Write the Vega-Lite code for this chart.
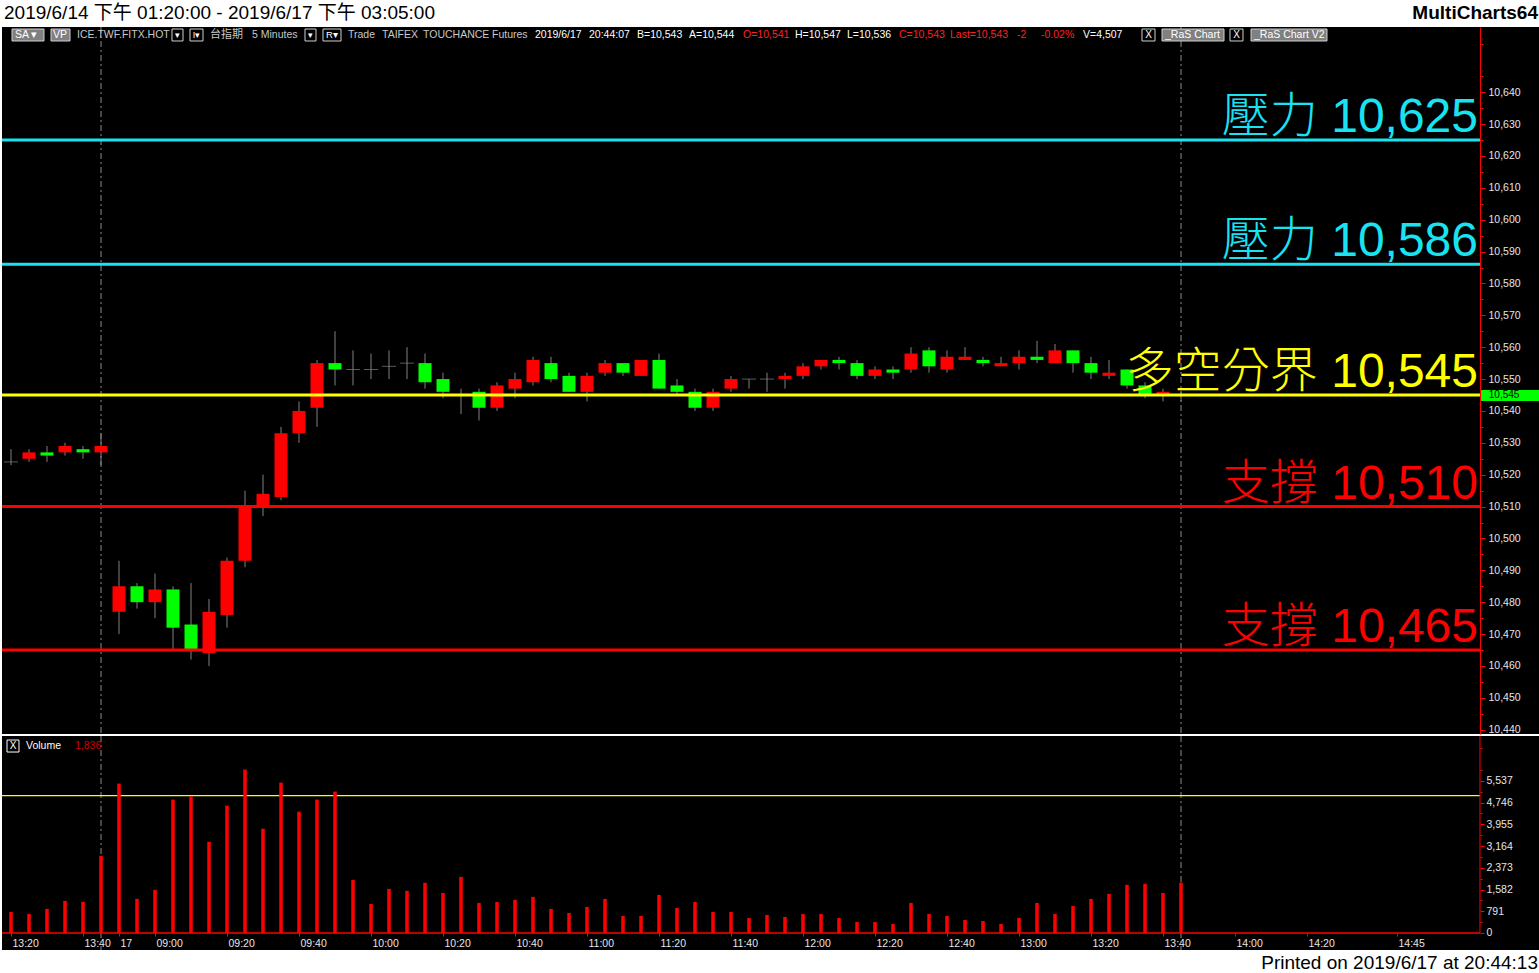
{
  "$schema": "https://vega.github.io/schema/vega-lite/v6.json",
  "background": "white",
  "padding": 0,
  "autosize": {"type": "pad"},
  "spacing": 2,
  "bounds": "flush",
  "config": {"view": {"stroke": null}, "font": "Liberation Sans", "axis": {"grid": false}},
  "datasets": {
    "bars": [
      {"t": "2019-06-14 13:20", "i": 0, "o": 10524, "h": 10528, "l": 10523, "c": 10524, "v": 767},
      {"t": "2019-06-14 13:25", "i": 1, "o": 10525, "h": 10528, "l": 10524, "c": 10527, "v": 694},
      {"t": "2019-06-14 13:30", "i": 2, "o": 10527, "h": 10529, "l": 10524, "c": 10526, "v": 876},
      {"t": "2019-06-14 13:35", "i": 3, "o": 10527, "h": 10530, "l": 10526, "c": 10529, "v": 1168},
      {"t": "2019-06-14 13:40", "i": 4, "o": 10528, "h": 10529, "l": 10525, "c": 10527, "v": 1131},
      {"t": "2019-06-14 13:45", "i": 5, "o": 10527, "h": 10533, "l": 10523, "c": 10529, "v": 2810},
      {"t": "2019-06-17 08:50", "i": 6, "o": 10477, "h": 10493, "l": 10470, "c": 10485, "v": 5439},
      {"t": "2019-06-17 08:55", "i": 7, "o": 10485, "h": 10486, "l": 10478, "c": 10480, "v": 1241},
      {"t": "2019-06-17 09:00", "i": 8, "o": 10480, "h": 10489, "l": 10475, "c": 10484, "v": 1570},
      {"t": "2019-06-17 09:05", "i": 9, "o": 10484, "h": 10485, "l": 10465, "c": 10472, "v": 4855},
      {"t": "2019-06-17 09:10", "i": 10, "o": 10473, "h": 10486, "l": 10462, "c": 10465, "v": 4976},
      {"t": "2019-06-17 09:15", "i": 11, "o": 10464, "h": 10481, "l": 10460, "c": 10477, "v": 3321},
      {"t": "2019-06-17 09:20", "i": 12, "o": 10476, "h": 10494, "l": 10472, "c": 10493, "v": 4636},
      {"t": "2019-06-17 09:25", "i": 13, "o": 10493, "h": 10515, "l": 10491, "c": 10510, "v": 5950},
      {"t": "2019-06-17 09:30", "i": 14, "o": 10510, "h": 10520, "l": 10507, "c": 10514, "v": 3796},
      {"t": "2019-06-17 09:35", "i": 15, "o": 10513, "h": 10535, "l": 10512, "c": 10533, "v": 5475},
      {"t": "2019-06-17 09:40", "i": 16, "o": 10533, "h": 10543, "l": 10530, "c": 10540, "v": 4417},
      {"t": "2019-06-17 09:45", "i": 17, "o": 10541, "h": 10556, "l": 10535, "c": 10555, "v": 4855},
      {"t": "2019-06-17 09:50", "i": 18, "o": 10555, "h": 10565, "l": 10548, "c": 10553, "v": 5147},
      {"t": "2019-06-17 09:55", "i": 19, "o": 10553, "h": 10559, "l": 10548, "c": 10553, "v": 1935},
      {"t": "2019-06-17 10:00", "i": 20, "o": 10553, "h": 10558, "l": 10550, "c": 10553, "v": 1059},
      {"t": "2019-06-17 10:05", "i": 21, "o": 10554, "h": 10559, "l": 10550, "c": 10554, "v": 1606},
      {"t": "2019-06-17 10:10", "i": 22, "o": 10555, "h": 10560, "l": 10550, "c": 10555, "v": 1533},
      {"t": "2019-06-17 10:15", "i": 23, "o": 10555, "h": 10558, "l": 10547, "c": 10549, "v": 1825},
      {"t": "2019-06-17 10:20", "i": 24, "o": 10550, "h": 10552, "l": 10544, "c": 10546, "v": 1460},
      {"t": "2019-06-17 10:25", "i": 25, "o": 10545, "h": 10547, "l": 10539, "c": 10545, "v": 2044},
      {"t": "2019-06-17 10:30", "i": 26, "o": 10546, "h": 10547, "l": 10537, "c": 10541, "v": 1095},
      {"t": "2019-06-17 10:35", "i": 27, "o": 10541, "h": 10549, "l": 10540, "c": 10548, "v": 1131},
      {"t": "2019-06-17 10:40", "i": 28, "o": 10547, "h": 10552, "l": 10544, "c": 10550, "v": 1205},
      {"t": "2019-06-17 10:45", "i": 29, "o": 10549, "h": 10557, "l": 10548, "c": 10556, "v": 1314},
      {"t": "2019-06-17 10:50", "i": 30, "o": 10555, "h": 10557, "l": 10549, "c": 10550, "v": 876},
      {"t": "2019-06-17 10:55", "i": 31, "o": 10551, "h": 10552, "l": 10546, "c": 10546, "v": 730},
      {"t": "2019-06-17 11:00", "i": 32, "o": 10546, "h": 10552, "l": 10543, "c": 10551, "v": 949},
      {"t": "2019-06-17 11:05", "i": 33, "o": 10552, "h": 10556, "l": 10551, "c": 10555, "v": 1241},
      {"t": "2019-06-17 11:10", "i": 34, "o": 10555, "h": 10555, "l": 10551, "c": 10552, "v": 620},
      {"t": "2019-06-17 11:15", "i": 35, "o": 10551, "h": 10556, "l": 10551, "c": 10556, "v": 620},
      {"t": "2019-06-17 11:20", "i": 36, "o": 10556, "h": 10558, "l": 10547, "c": 10547, "v": 1387},
      {"t": "2019-06-17 11:25", "i": 37, "o": 10548, "h": 10550, "l": 10545, "c": 10546, "v": 912},
      {"t": "2019-06-17 11:30", "i": 38, "o": 10546, "h": 10547, "l": 10540, "c": 10541, "v": 1131},
      {"t": "2019-06-17 11:35", "i": 39, "o": 10541, "h": 10547, "l": 10540, "c": 10546, "v": 767},
      {"t": "2019-06-17 11:40", "i": 40, "o": 10547, "h": 10551, "l": 10546, "c": 10550, "v": 767},
      {"t": "2019-06-17 11:45", "i": 41, "o": 10550, "h": 10550, "l": 10547, "c": 10550, "v": 548},
      {"t": "2019-06-17 11:50", "i": 42, "o": 10550, "h": 10552, "l": 10546, "c": 10550, "v": 657},
      {"t": "2019-06-17 11:55", "i": 43, "o": 10550, "h": 10552, "l": 10547, "c": 10551, "v": 584},
      {"t": "2019-06-17 12:00", "i": 44, "o": 10551, "h": 10555, "l": 10550, "c": 10554, "v": 694},
      {"t": "2019-06-17 12:05", "i": 45, "o": 10554, "h": 10556, "l": 10553, "c": 10556, "v": 694},
      {"t": "2019-06-17 12:10", "i": 46, "o": 10556, "h": 10557, "l": 10553, "c": 10555, "v": 548},
      {"t": "2019-06-17 12:15", "i": 47, "o": 10555, "h": 10556, "l": 10550, "c": 10551, "v": 402},
      {"t": "2019-06-17 12:20", "i": 48, "o": 10551, "h": 10554, "l": 10550, "c": 10553, "v": 402},
      {"t": "2019-06-17 12:25", "i": 49, "o": 10553, "h": 10554, "l": 10550, "c": 10552, "v": 329},
      {"t": "2019-06-17 12:30", "i": 50, "o": 10553, "h": 10560, "l": 10552, "c": 10558, "v": 1095},
      {"t": "2019-06-17 12:35", "i": 51, "o": 10559, "h": 10560, "l": 10552, "c": 10554, "v": 694},
      {"t": "2019-06-17 12:40", "i": 52, "o": 10553, "h": 10559, "l": 10552, "c": 10557, "v": 620},
      {"t": "2019-06-17 12:45", "i": 53, "o": 10556, "h": 10560, "l": 10556, "c": 10557, "v": 474},
      {"t": "2019-06-17 12:50", "i": 54, "o": 10556, "h": 10557, "l": 10554, "c": 10555, "v": 438},
      {"t": "2019-06-17 12:55", "i": 55, "o": 10554, "h": 10557, "l": 10554, "c": 10555, "v": 329},
      {"t": "2019-06-17 13:00", "i": 56, "o": 10555, "h": 10559, "l": 10553, "c": 10557, "v": 548},
      {"t": "2019-06-17 13:05", "i": 57, "o": 10557, "h": 10562, "l": 10555, "c": 10556, "v": 1095},
      {"t": "2019-06-17 13:10", "i": 58, "o": 10555, "h": 10561, "l": 10555, "c": 10559, "v": 694},
      {"t": "2019-06-17 13:15", "i": 59, "o": 10559, "h": 10559, "l": 10552, "c": 10555, "v": 986},
      {"t": "2019-06-17 13:20", "i": 60, "o": 10555, "h": 10557, "l": 10550, "c": 10552, "v": 1241},
      {"t": "2019-06-17 13:25", "i": 61, "o": 10551, "h": 10556, "l": 10550, "c": 10552, "v": 1424},
      {"t": "2019-06-17 13:30", "i": 62, "o": 10553, "h": 10553, "l": 10547, "c": 10548, "v": 1752},
      {"t": "2019-06-17 13:35", "i": 63, "o": 10548, "h": 10549, "l": 10544, "c": 10545, "v": 1789},
      {"t": "2019-06-17 13:40", "i": 64, "o": 10545, "h": 10547, "l": 10543, "c": 10546, "v": 1460},
      {"t": "2019-06-17 13:45", "i": 65, "o": 10545, "h": 10546, "l": 10543, "c": 10545, "v": 1836}
    ],
    "levels": [
      {"price": 10625, "kind": "壓力", "label": "壓力 10,625"},
      {"price": 10586, "kind": "壓力", "label": "壓力 10,586"},
      {"price": 10545, "kind": "多空分界", "label": "多空分界 10,545"},
      {"price": 10510, "kind": "支撐", "label": "支撐 10,510"},
      {"price": 10465, "kind": "支撐", "label": "支撐 10,465"}
    ],
    "sessions": [{"i": 5, "session": "2019/6/14 close"}, {"i": 65, "session": "2019/6/17 close"}],
    "header": [
      {"side": "start", "text": "2019/6/14 下午 01:20:00 - 2019/6/17 下午 03:05:00"},
      {"side": "end", "text": "MultiCharts64"}
    ],
    "volref": [{"v": 5000}]
  },
  "resolve": {"scale": {"x": "independent", "y": "independent", "color": "independent"}},
  "vconcat": [
    {
      "width": 1539,
      "height": 25,
      "data": {"name": "header"},
      "encoding": {"x": {"field": "side", "type": "nominal", "scale": {"type": "point", "domain": ["start", "end"], "padding": 0}, "axis": null}},
      "layer": [
        {"transform": [{"filter": "datum.side == 'start'"}], "mark": {"type": "text", "align": "left", "dx": 2, "fontSize": 19, "color": "#000000", "font": "Liberation Sans, Noto Sans CJK TC"}, "encoding": {"text": {"field": "text"}}},
        {"transform": [{"filter": "datum.side == 'end'"}], "mark": {"type": "text", "align": "right", "dx": -3, "fontSize": 19, "fontWeight": "bold", "color": "#000000", "font": "Liberation Sans"}, "encoding": {"text": {"field": "text"}}}
      ]
    },
    {
      "width": 1539,
      "height": 707,
      "view": {"fill": "#000000"},
      "data": {"values": [{}]},
      "resolve": {"axis": {"x": "independent", "y": "independent"}},
      "layer": [
        {"data": {"name": "sessions"}, "mark": {"type": "rule", "color": "#8c8c8c", "strokeWidth": 1, "strokeDash": [6, 3, 2, 3]}, "encoding": {"x": {"field": "i", "type": "quantitative", "scale": {"domain": [-0.5, 85], "nice": false, "zero": false, "padding": 0}, "axis": null}}},
        {"data": {"name": "bars"}, "mark": {"type": "rule", "color": "#808080", "strokeWidth": 1}, "encoding": {
          "x": {"field": "i", "type": "quantitative", "axis": null},
          "y": {"field": "l", "type": "quantitative", "scale": {"domain": [10438.65, 10660.45], "nice": false, "zero": false, "padding": 0},
            "axis": {"orient": "right", "offset": -61, "title": null, "values": [10440, 10450, 10460, 10470, 10480, 10490, 10500, 10510, 10520, 10530, 10540, 10550, 10560, 10570, 10580, 10590, 10600, 10610, 10620, 10630, 10640], "labelExpr": "format(datum.value, ',')", "domainColor": "#FF0000", "domainWidth": 1, "tickColor": "#FF0000", "tickSize": 5, "labelColor": "#E6E6E6", "labelFontSize": 10.5, "labelFont": "Liberation Sans", "labelPadding": 3, "labelOverlap": false, "labelBound": false, "labelFlush": false, "grid": false}},
          "y2": {"field": "h"}}},
        {"data": {"name": "bars"}, "transform": [{"filter": "datum.o != datum.c"}], "mark": {"type": "bar", "size": 13, "orient": "vertical"}, "encoding": {
          "x": {"field": "i", "type": "quantitative", "axis": null},
          "y": {"field": "o", "type": "quantitative", "axis": null},
          "y2": {"field": "c"},
          "color": {"condition": {"test": "datum.c > datum.o", "value": "#FF0000"}, "value": "#00FF00"}}},
        {"data": {"name": "bars"}, "transform": [{"filter": "datum.o == datum.c"}], "mark": {"type": "tick", "orient": "horizontal", "size": 14, "thickness": 1, "color": "#808080"}, "encoding": {
          "x": {"field": "i", "type": "quantitative", "axis": null},
          "y": {"field": "o", "type": "quantitative",
            "axis": {"orient": "right", "offset": -61, "title": null, "values": [10445, 10455, 10465, 10475, 10485, 10495, 10505, 10515, 10525, 10535, 10545, 10555, 10565, 10575, 10585, 10595, 10605, 10615, 10625, 10635, 10645, 10655], "labels": false, "domain": false, "tickColor": "#FF0000", "tickSize": 3, "grid": false}}}},
        {"data": {"name": "levels"}, "mark": {"type": "rule", "strokeWidth": 3}, "encoding": {
          "y": {"field": "price", "type": "quantitative", "axis": null},
          "x": {"datum": -0.5, "axis": null},
          "x2": {"datum": 81.61},
          "color": {"field": "kind", "type": "nominal", "scale": {"domain": ["壓力", "多空分界", "支撐"], "range": ["#19E3F2", "#FFFF00", "#FF0000"]}, "legend": null}}},
        {"data": {"name": "levels"}, "mark": {"type": "text", "align": "right", "baseline": "alphabetic", "dy": -8, "fontSize": 48, "fontWeight": 300, "font": "Liberation Sans, Noto Sans CJK TC"}, "encoding": {
          "y": {"field": "price", "type": "quantitative", "axis": null},
          "x": {"datum": 81.5, "axis": null},
          "text": {"field": "label"},
          "color": {"field": "kind", "type": "nominal", "legend": null}}},
        {"mark": {"type": "rect", "fill": "#00FF00"}, "encoding": {"x": {"datum": 81.67, "axis": null}, "x2": {"datum": 84.89}, "y": {"datum": 10546.57, "axis": null}, "y2": {"datum": 10543.12}}},
        {"mark": {"type": "text", "text": "10,545", "align": "left", "baseline": "middle", "fontSize": 10, "color": "#000000"}, "encoding": {"x": {"datum": 82.1, "axis": null}, "y": {"datum": 10544.85, "axis": null}}},

        {"mark": {"type": "rect", "fill": "#808080", "stroke": "#D0D0D0", "strokeWidth": 1}, "encoding": {"x": {"datum": 0.056, "axis": null}, "x2": {"datum": 1.833}, "y": {"datum": 10659.82, "axis": null}, "y2": {"datum": 10656.06}}},
        {"mark": {"type": "rect", "fill": "#808080", "stroke": "#D0D0D0", "strokeWidth": 1}, "encoding": {"x": {"datum": 2.222, "axis": null}, "x2": {"datum": 3.278}, "y": {"datum": 10659.82, "axis": null}, "y2": {"datum": 10656.06}}},
        {"mark": {"type": "rect", "fill": "#000000", "stroke": "#D0D0D0", "strokeWidth": 1}, "encoding": {"x": {"datum": 8.944, "axis": null}, "x2": {"datum": 9.556}, "y": {"datum": 10659.82, "axis": null}, "y2": {"datum": 10656.06}}},
        {"mark": {"type": "rect", "fill": "#000000", "stroke": "#D0D0D0", "strokeWidth": 1}, "encoding": {"x": {"datum": 9.944, "axis": null}, "x2": {"datum": 10.667}, "y": {"datum": 10659.82, "axis": null}, "y2": {"datum": 10656.06}}},
        {"mark": {"type": "rect", "fill": "#000000", "stroke": "#D0D0D0", "strokeWidth": 1}, "encoding": {"x": {"datum": 16.333, "axis": null}, "x2": {"datum": 16.944}, "y": {"datum": 10659.82, "axis": null}, "y2": {"datum": 10656.06}}},
        {"mark": {"type": "rect", "fill": "#000000", "stroke": "#D0D0D0", "strokeWidth": 1}, "encoding": {"x": {"datum": 17.333, "axis": null}, "x2": {"datum": 18.333}, "y": {"datum": 10659.82, "axis": null}, "y2": {"datum": 10656.06}}},
        {"mark": {"type": "rect", "fill": "#000000", "stroke": "#D0D0D0", "strokeWidth": 1}, "encoding": {"x": {"datum": 62.833, "axis": null}, "x2": {"datum": 63.556}, "y": {"datum": 10659.82, "axis": null}, "y2": {"datum": 10656.06}}},
        {"mark": {"type": "rect", "fill": "#808080", "stroke": "#D0D0D0", "strokeWidth": 1}, "encoding": {"x": {"datum": 63.944, "axis": null}, "x2": {"datum": 67.389}, "y": {"datum": 10659.82, "axis": null}, "y2": {"datum": 10656.06}}},
        {"mark": {"type": "rect", "fill": "#000000", "stroke": "#D0D0D0", "strokeWidth": 1}, "encoding": {"x": {"datum": 67.722, "axis": null}, "x2": {"datum": 68.444}, "y": {"datum": 10659.82, "axis": null}, "y2": {"datum": 10656.06}}},
        {"mark": {"type": "rect", "fill": "#808080", "stroke": "#D0D0D0", "strokeWidth": 1}, "encoding": {"x": {"datum": 68.889, "axis": null}, "x2": {"datum": 73.111}, "y": {"datum": 10659.82, "axis": null}, "y2": {"datum": 10656.06}}},

        {"mark": {"type": "text", "text": "SA ▾", "align": "left", "baseline": "middle", "fontSize": 10.5, "color": "#FFFFFF", "font": "Liberation Sans Narrow, Liberation Sans"}, "encoding": {"x": {"datum": 0.222, "axis": null}, "y": {"datum": 10657.94, "axis": null}}},
        {"mark": {"type": "text", "text": "VP", "align": "left", "baseline": "middle", "fontSize": 10.5, "color": "#FFFFFF", "font": "Liberation Sans Narrow, Liberation Sans"}, "encoding": {"x": {"datum": 2.333, "axis": null}, "y": {"datum": 10657.94, "axis": null}}},
        {"mark": {"type": "text", "text": "ICE.TWF.FITX.HOT", "align": "left", "baseline": "middle", "fontSize": 10.5, "color": "#C8C8C8", "font": "Liberation Sans Narrow, Liberation Sans"}, "encoding": {"x": {"datum": 3.667, "axis": null}, "y": {"datum": 10657.94, "axis": null}}},
        {"mark": {"type": "text", "text": "▾", "align": "center", "baseline": "middle", "fontSize": 9, "color": "#FFFFFF"}, "encoding": {"x": {"datum": 9.25, "axis": null}, "y": {"datum": 10657.94, "axis": null}}},
        {"mark": {"type": "text", "text": "I▾", "align": "center", "baseline": "middle", "fontSize": 9, "color": "#FFFFFF"}, "encoding": {"x": {"datum": 10.306, "axis": null}, "y": {"datum": 10657.94, "axis": null}}},
        {"mark": {"type": "text", "text": "台指期", "align": "left", "baseline": "middle", "fontSize": 11, "color": "#C8C8C8", "font": "Noto Sans CJK TC"}, "encoding": {"x": {"datum": 11.056, "axis": null}, "y": {"datum": 10657.94, "axis": null}}},
        {"mark": {"type": "text", "text": "5 Minutes", "align": "left", "baseline": "middle", "fontSize": 10.5, "color": "#C8C8C8", "font": "Liberation Sans Narrow, Liberation Sans"}, "encoding": {"x": {"datum": 13.389, "axis": null}, "y": {"datum": 10657.94, "axis": null}}},
        {"mark": {"type": "text", "text": "▾", "align": "center", "baseline": "middle", "fontSize": 9, "color": "#FFFFFF"}, "encoding": {"x": {"datum": 16.639, "axis": null}, "y": {"datum": 10657.94, "axis": null}}},
        {"mark": {"type": "text", "text": "R▾", "align": "center", "baseline": "middle", "fontSize": 9.5, "color": "#FFFFFF"}, "encoding": {"x": {"datum": 17.833, "axis": null}, "y": {"datum": 10657.94, "axis": null}}},
        {"mark": {"type": "text", "text": "Trade", "align": "left", "baseline": "middle", "fontSize": 10.5, "color": "#C8C8C8", "font": "Liberation Sans Narrow, Liberation Sans"}, "encoding": {"x": {"datum": 18.722, "axis": null}, "y": {"datum": 10657.94, "axis": null}}},
        {"mark": {"type": "text", "text": "TAIFEX", "align": "left", "baseline": "middle", "fontSize": 10.5, "color": "#C8C8C8", "font": "Liberation Sans Narrow, Liberation Sans"}, "encoding": {"x": {"datum": 20.611, "axis": null}, "y": {"datum": 10657.94, "axis": null}}},
        {"mark": {"type": "text", "text": "TOUCHANCE", "align": "left", "baseline": "middle", "fontSize": 10.5, "color": "#C8C8C8", "font": "Liberation Sans Narrow, Liberation Sans"}, "encoding": {"x": {"datum": 22.889, "axis": null}, "y": {"datum": 10657.94, "axis": null}}},
        {"mark": {"type": "text", "text": "Futures", "align": "left", "baseline": "middle", "fontSize": 10.5, "color": "#C8C8C8", "font": "Liberation Sans Narrow, Liberation Sans"}, "encoding": {"x": {"datum": 26.722, "axis": null}, "y": {"datum": 10657.94, "axis": null}}},
        {"mark": {"type": "text", "text": "2019/6/17", "align": "left", "baseline": "middle", "fontSize": 10.5, "color": "#FFFFFF", "font": "Liberation Sans Narrow, Liberation Sans"}, "encoding": {"x": {"datum": 29.111, "axis": null}, "y": {"datum": 10657.94, "axis": null}}},
        {"mark": {"type": "text", "text": "20:44:07", "align": "left", "baseline": "middle", "fontSize": 10.5, "color": "#FFFFFF", "font": "Liberation Sans Narrow, Liberation Sans"}, "encoding": {"x": {"datum": 32.111, "axis": null}, "y": {"datum": 10657.94, "axis": null}}},
        {"mark": {"type": "text", "text": "B=10,543", "align": "left", "baseline": "middle", "fontSize": 10.5, "color": "#FFFFFF", "font": "Liberation Sans Narrow, Liberation Sans"}, "encoding": {"x": {"datum": 34.778, "axis": null}, "y": {"datum": 10657.94, "axis": null}}},
        {"mark": {"type": "text", "text": "A=10,544", "align": "left", "baseline": "middle", "fontSize": 10.5, "color": "#FFFFFF", "font": "Liberation Sans Narrow, Liberation Sans"}, "encoding": {"x": {"datum": 37.667, "axis": null}, "y": {"datum": 10657.94, "axis": null}}},
        {"mark": {"type": "text", "text": "O=10,541", "align": "left", "baseline": "middle", "fontSize": 10.5, "color": "#FF2020", "font": "Liberation Sans Narrow, Liberation Sans"}, "encoding": {"x": {"datum": 40.667, "axis": null}, "y": {"datum": 10657.94, "axis": null}}},
        {"mark": {"type": "text", "text": "H=10,547", "align": "left", "baseline": "middle", "fontSize": 10.5, "color": "#FFFFFF", "font": "Liberation Sans Narrow, Liberation Sans"}, "encoding": {"x": {"datum": 43.556, "axis": null}, "y": {"datum": 10657.94, "axis": null}}},
        {"mark": {"type": "text", "text": "L=10,536", "align": "left", "baseline": "middle", "fontSize": 10.5, "color": "#FFFFFF", "font": "Liberation Sans Narrow, Liberation Sans"}, "encoding": {"x": {"datum": 46.444, "axis": null}, "y": {"datum": 10657.94, "axis": null}}},
        {"mark": {"type": "text", "text": "C=10,543", "align": "left", "baseline": "middle", "fontSize": 10.5, "color": "#FF2020", "font": "Liberation Sans Narrow, Liberation Sans"}, "encoding": {"x": {"datum": 49.333, "axis": null}, "y": {"datum": 10657.94, "axis": null}}},
        {"mark": {"type": "text", "text": "Last=10,543", "align": "left", "baseline": "middle", "fontSize": 10.5, "color": "#FF2020", "font": "Liberation Sans Narrow, Liberation Sans"}, "encoding": {"x": {"datum": 52.167, "axis": null}, "y": {"datum": 10657.94, "axis": null}}},
        {"mark": {"type": "text", "text": "-2", "align": "left", "baseline": "middle", "fontSize": 10.5, "color": "#FF2020", "font": "Liberation Sans Narrow, Liberation Sans"}, "encoding": {"x": {"datum": 55.889, "axis": null}, "y": {"datum": 10657.94, "axis": null}}},
        {"mark": {"type": "text", "text": "-0.02%", "align": "left", "baseline": "middle", "fontSize": 10.5, "color": "#FF2020", "font": "Liberation Sans Narrow, Liberation Sans"}, "encoding": {"x": {"datum": 57.222, "axis": null}, "y": {"datum": 10657.94, "axis": null}}},
        {"mark": {"type": "text", "text": "V=4,507", "align": "left", "baseline": "middle", "fontSize": 10.5, "color": "#FFFFFF", "font": "Liberation Sans Narrow, Liberation Sans"}, "encoding": {"x": {"datum": 59.556, "axis": null}, "y": {"datum": 10657.94, "axis": null}}},
        {"mark": {"type": "text", "text": "X", "align": "center", "baseline": "middle", "fontSize": 10, "color": "#FFFFFF", "font": "Liberation Sans Narrow, Liberation Sans"}, "encoding": {"x": {"datum": 63.194, "axis": null}, "y": {"datum": 10657.94, "axis": null}}},
        {"mark": {"type": "text", "text": "_RaS Chart", "align": "left", "baseline": "middle", "fontSize": 10.5, "color": "#FFFFFF", "font": "Liberation Sans Narrow, Liberation Sans"}, "encoding": {"x": {"datum": 64.111, "axis": null}, "y": {"datum": 10657.94, "axis": null}}},
        {"mark": {"type": "text", "text": "X", "align": "center", "baseline": "middle", "fontSize": 10, "color": "#FFFFFF", "font": "Liberation Sans Narrow, Liberation Sans"}, "encoding": {"x": {"datum": 68.083, "axis": null}, "y": {"datum": 10657.94, "axis": null}}},
        {"mark": {"type": "text", "text": "_RaS Chart V2", "align": "left", "baseline": "middle", "fontSize": 10.5, "color": "#FFFFFF", "font": "Liberation Sans Narrow, Liberation Sans"}, "encoding": {"x": {"datum": 69.056, "axis": null}, "y": {"datum": 10657.94, "axis": null}}}
      ]
    },
    {
      "width": 1539,
      "height": 214,
      "view": {"fill": "#000000"},
      "title": {"text": "Printed on 2019/6/17 at 20:44:13", "orient": "bottom", "anchor": "end", "frame": "group", "fontSize": 19, "fontWeight": "normal", "font": "Liberation Sans", "color": "#000000", "offset": 3, "dx": -3},
      "data": {"values": [{}]},
      "resolve": {"axis": {"x": "independent", "y": "independent"}},
      "layer": [
        {"data": {"name": "sessions"}, "mark": {"type": "rule", "color": "#8c8c8c", "strokeWidth": 1, "strokeDash": [6, 3, 2, 3]}, "encoding": {"x": {"field": "i", "type": "quantitative", "scale": {"domain": [-0.5, 85], "nice": false, "zero": false, "padding": 0}, "axis": null}}},
        {"data": {"name": "volref"}, "mark": {"type": "rule", "color": "#FFFF00", "strokeWidth": 1.3}, "encoding": {
          "y": {"field": "v", "type": "quantitative",
            "axis": {"orient": "right", "offset": -61, "title": null, "values": [395.5, 1186.5, 1977.5, 2768.5, 3559.5, 4350.5, 5141.5, 5932.5, 6723.5], "labels": false, "domain": false, "tickColor": "#FF0000", "tickSize": 2, "grid": false}},
          "x": {"datum": -0.5, "axis": null},
          "x2": {"datum": 81.61}}},
        {"data": {"name": "bars"}, "mark": {"type": "bar", "size": 3.5, "orient": "vertical", "color": "#FF0000"}, "encoding": {
          "x": {"field": "i", "type": "quantitative",
            "axis": {"orient": "bottom", "offset": -17, "title": null, "values": [0, 4, 6, 8, 12, 16, 20, 24, 28, 32, 36, 40, 44, 48, 52, 56, 60, 64, 68, 72, 77],
              "labelExpr": "datum.value == 6 ? '17' : (datum.value < 6 ? timeFormat(datetime(2019, 5, 14, 13, 20 + datum.value * 5), '%H:%M') : timeFormat(datetime(2019, 5, 17, 8, 50 + (datum.value - 6) * 5), '%H:%M'))",
              "domain": false, "tickColor": "#FF0000", "tickSize": 3, "labelColor": "#E6E6E6", "labelFontSize": 10.5, "labelFont": "Liberation Sans", "labelAlign": "left", "labelOffset": 1, "labelPadding": 2, "labelOverlap": false, "labelFlush": false, "labelBound": false, "grid": false}},
          "y": {"field": "v", "type": "quantitative", "scale": {"domain": [-619, 7171], "nice": false, "zero": false, "padding": 0},
            "axis": {"orient": "right", "offset": -61, "title": null, "values": [0, 791, 1582, 2373, 3164, 3955, 4746, 5537], "labelExpr": "format(datum.value, ',')", "domain": false, "tickColor": "#FF0000", "tickSize": 4, "labelColor": "#E6E6E6", "labelFontSize": 10.5, "labelFont": "Liberation Sans", "labelPadding": 2, "labelOverlap": false, "labelBound": false, "labelFlush": false, "grid": false}},
          "y2": {"datum": 0}}},
        {"mark": {"type": "rule", "color": "#FF0000", "strokeWidth": 1.5}, "encoding": {"x": {"datum": -0.5, "axis": null}, "x2": {"datum": 81.61}, "y": {"datum": 0, "axis": null}}},
        {"mark": {"type": "rule", "color": "#FF0000", "strokeWidth": 1}, "encoding": {"x": {"datum": 81.61, "axis": null}, "y": {"datum": 0, "axis": null}, "y2": {"datum": 7171}}},
        {"mark": {"type": "rect", "fill": "#000000", "stroke": "#FFFFFF", "strokeWidth": 1}, "encoding": {"x": {"datum": -0.222, "axis": null}, "x2": {"datum": 0.444}, "y": {"datum": 7025, "axis": null}, "y2": {"datum": 6588}}},
        {"mark": {"type": "text", "text": "X", "align": "center", "baseline": "middle", "fontSize": 10, "color": "#FFFFFF"}, "encoding": {"x": {"datum": 0.111, "axis": null}, "y": {"datum": 6807, "axis": null}}},
        {"mark": {"type": "text", "text": "Volume", "align": "left", "baseline": "middle", "fontSize": 10.5, "color": "#FFFFFF", "font": "Liberation Sans"}, "encoding": {"x": {"datum": 0.833, "axis": null}, "y": {"datum": 6807, "axis": null}}},
        {"mark": {"type": "text", "text": "1,836", "align": "left", "baseline": "middle", "fontSize": 10.5, "color": "#CC0000", "font": "Liberation Sans"}, "encoding": {"x": {"datum": 3.556, "axis": null}, "y": {"datum": 6807, "axis": null}}}
      ]
    }
  ]
}
